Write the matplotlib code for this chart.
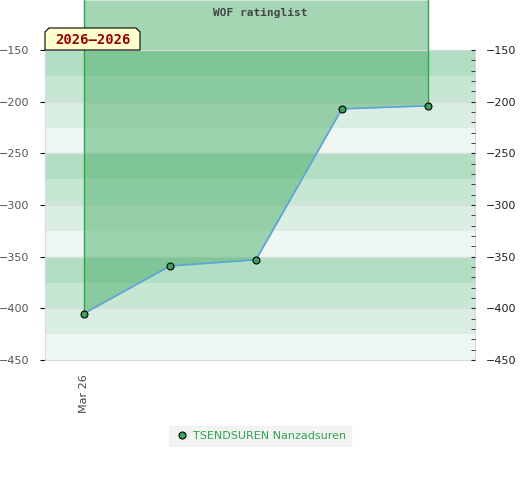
import matplotlib.pyplot as plt
from matplotlib.patches import Polygon

dates = ["Mar 26", "", "", "", ""]
ratings = [-405, -359, -353, -207, -204]
player = "TSENDSUREN Nanzadsuren"
period = "2026\u20132026"
title = "WOF ratinglist"

band_colors = ["#b2dec3", "#c8e6d4", "#dbeee3", "#eef7f1"]

fig = plt.figure(figsize=(5.2, 4.8), dpi=100)
ax = fig.add_axes([45 / 520, 120 / 480, 430 / 520, 310 / 480])

xs = list(range(len(ratings)))
ax.set_xlim(-0.453, len(ratings) - 1 + 0.547)
ax.set_ylim(-450, -150)

# alternating background bands, 25 points each
lo = -450
i = 0
while lo < -150:
    c = band_colors[(11 - i) % 4]
    ax.axhspan(lo, lo + 25, color=c, lw=0, zorder=0)
    lo += 25
    i += 1

for v in range(-400, -150, 50):
    ax.axhline(v, color="#dddddd", lw=1, zorder=1)
ax.axhline(-150, color="#dddddd", lw=1.5, zorder=1)

# shaded area from the line up to the top of the figure
top = -150 + 50 * 300 / 310
ax.fill_between(xs, ratings, top, color="#4caf6a", alpha=0.5, lw=0,
                clip_on=False, zorder=2)
ax.plot([xs[0], xs[0]], [ratings[0], top], color="#2ea44f", lw=1, clip_on=False, zorder=3)
ax.plot([xs[-1], xs[-1]], [ratings[-1], top], color="#2ea44f", lw=1, clip_on=False, zorder=3)

ax.plot(xs, ratings, color="#5ba3dc", lw=1.2, zorder=4)
ax.plot(xs, ratings, "o", ms=5, mfc="#3aa35a", mec="black", mew=0.8, zorder=5,
        label=player, clip_on=False)

for s in ax.spines.values():
    s.set_color("#d8d8d8")

ax.set_xticks([0])
ax.set_xticklabels([dates[0]], rotation=90, fontsize=8, color="#444444")
ax.tick_params(axis="x", length=0, pad=10)

ax.set_yticks(range(-450, -149, 50))
ax.tick_params(axis="y", left=False, labelsize=8, labelcolor="#555555", pad=8)

ax2 = ax.twinx()
ax2.set_ylim(-450, -150)
ax2.set_yticks(range(-450, -149, 50))
ax2.set_yticks(range(-440, -150, 10), minor=True)
ax2.tick_params(axis="y", which="both", direction="in", length=3, labelsize=8,
                labelcolor="#222222", pad=8, color="#222222")
for s in ax2.spines.values():
    s.set_visible(False)

fig.text(0.5, 1 - 13 / 480, title, ha="center", va="center", fontsize=8,
         fontweight="bold", family="DejaVu Sans Mono", color="#444444")

# period label with cut corners
x0, x1, y0, y1, k = 45 / 520, 140 / 520, 1 - 50 / 480, 1 - 28 / 480, 4
poly = Polygon([(x0, y0), (x1, y0), (x1, y1 - k / 480), (x1 - k / 520, y1),
                (x0 + k / 520, y1), (x0, y1 - k / 480)], closed=True,
               transform=fig.transFigure, facecolor="#ffffcc", edgecolor="black",
               lw=0.8, zorder=10)
fig.patches.append(poly)
fig.text((x0 + x1) / 2, (y0 + y1) / 2 - 1 / 480, period, ha="center", va="center",
         fontsize=10, fontweight="bold", family="DejaVu Sans Mono",
         color="#990000", zorder=11)

leg = fig.legend(loc="center", bbox_to_anchor=(260 / 520, 1 - 436 / 480),
                 frameon=True, fontsize=8, handletextpad=0.3, borderpad=0.45,
                 handlelength=1.4, fancybox=False)
leg.get_frame().set_facecolor("#f0f0f0")
leg.get_frame().set_edgecolor("#f0f0f0")
for t in leg.get_texts():
    t.set_color("#2ea44f")

fig.savefig("out.png", dpi=100)
